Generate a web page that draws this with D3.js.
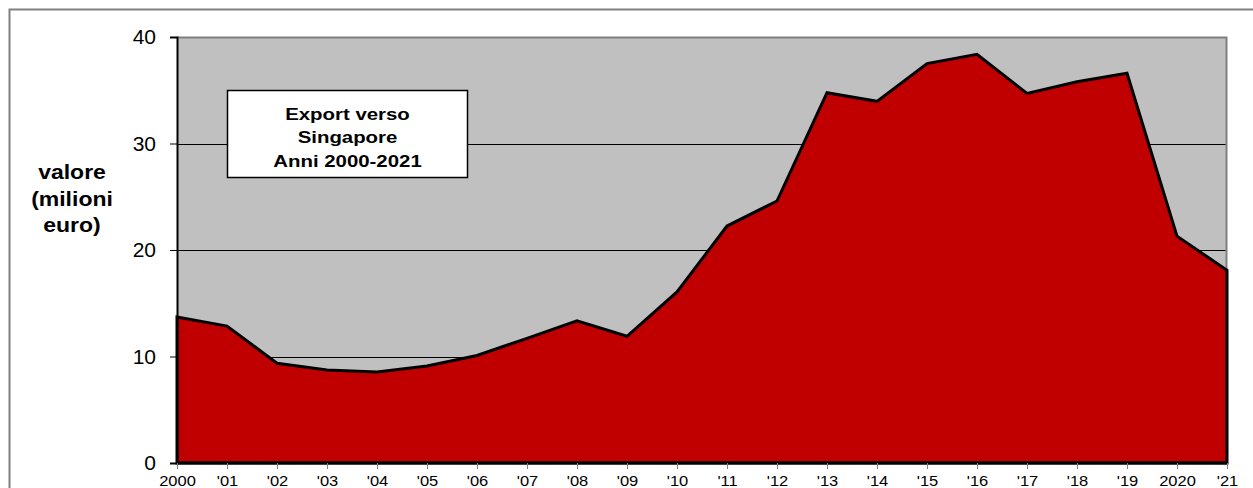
<!DOCTYPE html>
<html>
<head>
<meta charset="utf-8">
<script src="https://cdn.jsdelivr.net/npm/d3@7"></script>
<style>
  body { margin: 0; background: #fff; }
  text { font-family: "Liberation Sans", Arial, sans-serif; fill: #000; }
</style>
</head>
<body>
<svg id="chart" width="1253" height="488"></svg>
<script>
var years = ["2000", "'01", "'02", "'03", "'04", "'05", "'06", "'07", "'08", "'09", "'10",
             "'11", "'12", "'13", "'14", "'15", "'16", "'17", "'18", "'19", "2020", "'21"];
var values = [13.7, 12.86, 9.36, 8.73, 8.54, 9.1, 10.1, 11.7, 13.36, 11.9, 16.06,
              22.25, 24.6, 34.77, 33.96, 37.5, 38.37, 34.7, 35.8, 36.6, 21.3, 18.1];
var yTicks = [0, 10, 20, 30, 40];
var titleLines = ["Export verso", "Singapore", "Anni 2000-2021"];
var yLabelLines = ["valore", "(milioni", "euro)"];

var margin = {top: 37, right: 26, bottom: 25, left: 177},
    width = 1253 - margin.left - margin.right,
    height = 488 - margin.top - margin.bottom;

var svg = d3.select("#chart");

// outer frame
svg.append("rect")
    .attr("x", 9.5).attr("y", 9.5)
    .attr("width", 1300).attr("height", 600)
    .attr("fill", "none")
    .attr("stroke", "#808080")
    .attr("stroke-width", 2);

var g = svg.append("g")
    .attr("transform", "translate(" + margin.left + "," + margin.top + ")");

var x = d3.scalePoint()
    .domain(years)
    .range([0, width]);

var y = d3.scaleLinear()
    .domain([0, 40])
    .range([height, 0]);

// plot background
g.append("rect")
    .attr("width", width).attr("height", height)
    .attr("fill", "#c0c0c0");

// grid
g.append("g")
  .selectAll("line")
  .data(yTicks.slice(1, 4))
  .enter()
  .append("line")
    .attr("x1", 0).attr("x2", width)
    .attr("y1", function(d) { return Math.round(y(d)) + 0.5; })
    .attr("y2", function(d) { return Math.round(y(d)) + 0.5; })
    .attr("stroke", "#000")
    .attr("stroke-width", 1);

// plot border top/right
g.append("path")
    .attr("d", "M0,0.5H" + (width - 0.5) + "V" + height)
    .attr("fill", "none")
    .attr("stroke", "#808080")
    .attr("stroke-width", 2);

var area = d3.area()
    .x(function(d, i) { return x(years[i]); })
    .y0(height)
    .y1(function(d) { return y(d); });

g.append("path")
    .datum(values)
    .attr("d", area)
    .attr("fill", "#c00000")
    .attr("stroke", "#000")
    .attr("stroke-width", 3)
    .attr("stroke-linejoin", "miter");

// y axis
var yAxis = g.append("g")
    .call(d3.axisLeft(y).tickValues(yTicks).tickSize(7).tickPadding(14));
yAxis.select(".domain").attr("stroke", "#000").attr("stroke-width", 2);
yAxis.selectAll("text").style("font-size", "21px");
yAxis.selectAll(".tick line").attr("stroke", "#000");

// x axis (labels sit at the bottom edge, as in the original)
var xAxis = g.append("g")
    .attr("transform", "translate(0," + height + ")")
    .call(d3.axisBottom(x).tickSize(6).tickPadding(6));
xAxis.select(".domain").attr("stroke", "#000").attr("stroke-width", 3)
    .attr("d", "M0,0H" + width);
xAxis.selectAll(".tick line").attr("stroke", "#808080");
xAxis.selectAll("text")
    .style("font-size", "15px")
    .attr("transform", "scale(1.1,1)");

// title box
var box = svg.append("g").attr("transform", "translate(227,90)");
box.append("rect")
    .attr("x", 0.5).attr("y", 0.5)
    .attr("width", 240).attr("height", 87)
    .attr("fill", "#fff")
    .attr("stroke", "#000")
    .attr("stroke-width", 1.5);
box.selectAll("text")
  .data(titleLines)
  .enter()
  .append("text")
    .attr("transform", function(d, i) {
      return "translate(120.5," + (29.5 + i * 23.5) + ") scale(1.2,1)";
    })
    .attr("text-anchor", "middle")
    .style("font-size", "17px")
    .style("font-weight", "bold")
    .text(function(d) { return d; });

// y axis label
svg.append("g")
  .selectAll("text")
  .data(yLabelLines)
  .enter()
  .append("text")
    .attr("transform", function(d, i) {
      return "translate(72," + (179 + i * 26.5) + ") scale(1.15,1)";
    })
    .attr("text-anchor", "middle")
    .style("font-size", "20px")
    .style("font-weight", "bold")
    .text(function(d) { return d; });
</script>
</body>
</html>
